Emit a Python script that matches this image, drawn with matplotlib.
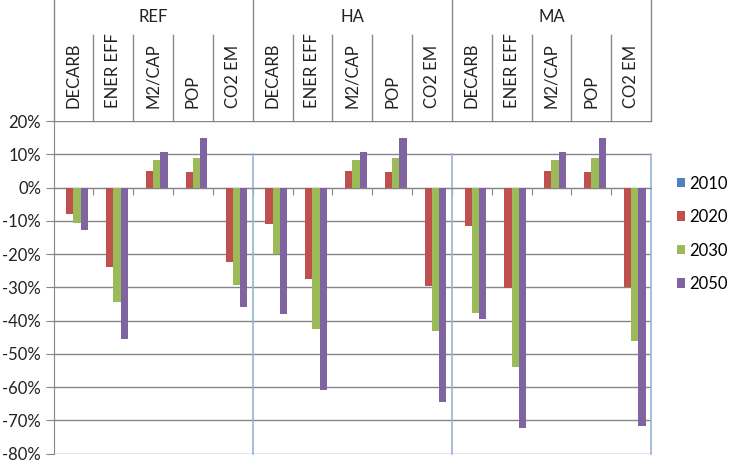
import matplotlib
matplotlib.use("Agg")
import matplotlib.pyplot as plt
import numpy as np
from matplotlib.patches import Patch

plt.rcParams["font.family"] = ["Lato", "DejaVu Sans"]
plt.rcParams["axes.unicode_minus"] = False

# scenario groups and indicator categories
groups = ["REF", "HA", "MA"]
indicators = ["DECARB", "ENER EFF", "M2/CAP", "POP", "CO2 EM"]
years = ["2010", "2020", "2030", "2050"]

# change vs. base year, in percent (15 = 3 groups x 5 indicators)
v2010 = [0, 0, 0, 0, 0, 0, 0, 0, 0, 0, 0, 0, 0, 0, 0]
v2020 = [-8.0, -24.0, 5.0, 4.7, -22.4,
         -10.8, -27.5, 5.0, 4.7, -29.5,
         -11.6, -30.2, 5.0, 4.7, -29.9]
v2030 = [-10.7, -34.5, 8.2, 8.9, -29.4,
         -20.0, -42.5, 8.2, 8.9, -43.2,
         -37.6, -54.1, 8.2, 8.9, -46.2]
v2050 = [-12.7, -45.5, 10.7, 15.0, -35.9,
         -38.0, -61.0, 10.7, 15.0, -64.4,
         -39.5, -72.3, 10.7, 15.0, -71.6]

colors = ["#4F81BD", "#C0504D", "#9BBB59", "#8064A2"]
grid_c = "#868686"
sep_c = "#95B3D7"
text_c = "#222222"

fig = plt.figure(figsize=(7.31, 4.63), dpi=100)
ax = fig.add_axes([0.0732, 0.0205, 0.8174, 0.7178])

n = len(groups) * len(indicators)
x = np.arange(n)
w = 1 / 5.5
for i, (vals, c) in enumerate(zip([v2010, v2020, v2030, v2050], colors)):
    ax.bar(x + (i - 1.5) * w, vals, width=w, color=c, zorder=3, label=years[i])

ax.set_xlim(-0.5, n - 0.5)
ax.set_ylim(-80, 20)
yt = np.arange(-80, 21, 10)
ax.set_yticks(yt)
ax.set_yticklabels([f"{v}%" for v in yt], fontsize=12, color=text_c)
ax.yaxis.grid(True, color=grid_c, lw=1, zorder=1)
ax.tick_params(axis="y", length=6, color=grid_c, pad=3)

# category axis sits on the zero line, ticks between categories
ax.spines["bottom"].set_position(("data", 0))
ax.spines["bottom"].set_color(grid_c)
ax.set_xticks(np.arange(0.5, n - 1, 1))
ax.set_xticklabels([])
ax.tick_params(axis="x", length=5, color=grid_c, direction="out")
ax.spines["left"].set_color(grid_c)
for s in ("top", "right"):
    ax.spines[s].set_visible(False)

# multi-level header above the plot
tr = ax.get_xaxis_transform()
y_top, y_mid = 1.365, 1.259
for b in [-0.5, 4.5, 9.5, 14.5]:
    ax.plot([b, b], [1, y_top], transform=tr, color=grid_c, lw=1, clip_on=False)
for k in range(n):
    if k % 5 != 0:
        ax.plot([k - 0.5, k - 0.5], [1, y_mid], transform=tr, color=grid_c,
                lw=1, clip_on=False)
    ax.text(k, 1.039, indicators[k % 5], transform=tr, rotation=90,
            ha="center", va="bottom", fontsize=12, color=text_c)
for g, name in enumerate(groups):
    ax.text(g * 5 + 2, 1.313, name, transform=tr, ha="center", va="center",
            fontsize=12, color=text_c)

# group separators inside the plot area
for b in [4.5, 9.5, 14.5]:
    ax.plot([b, b], [10, -80], color=sep_c, lw=1.2, zorder=2, clip_on=False)

handles = [Patch(facecolor=c, label=y) for c, y in zip(colors, years)]
fig.legend(handles=handles, loc="center left", bbox_to_anchor=(0.926, 0.495),
           frameon=False, fontsize=12, handlelength=0.5, handleheight=0.5,
           handletextpad=0.25, labelspacing=1.05, borderpad=0,
           borderaxespad=0)

fig.savefig("out.png", dpi=100, facecolor="white")
